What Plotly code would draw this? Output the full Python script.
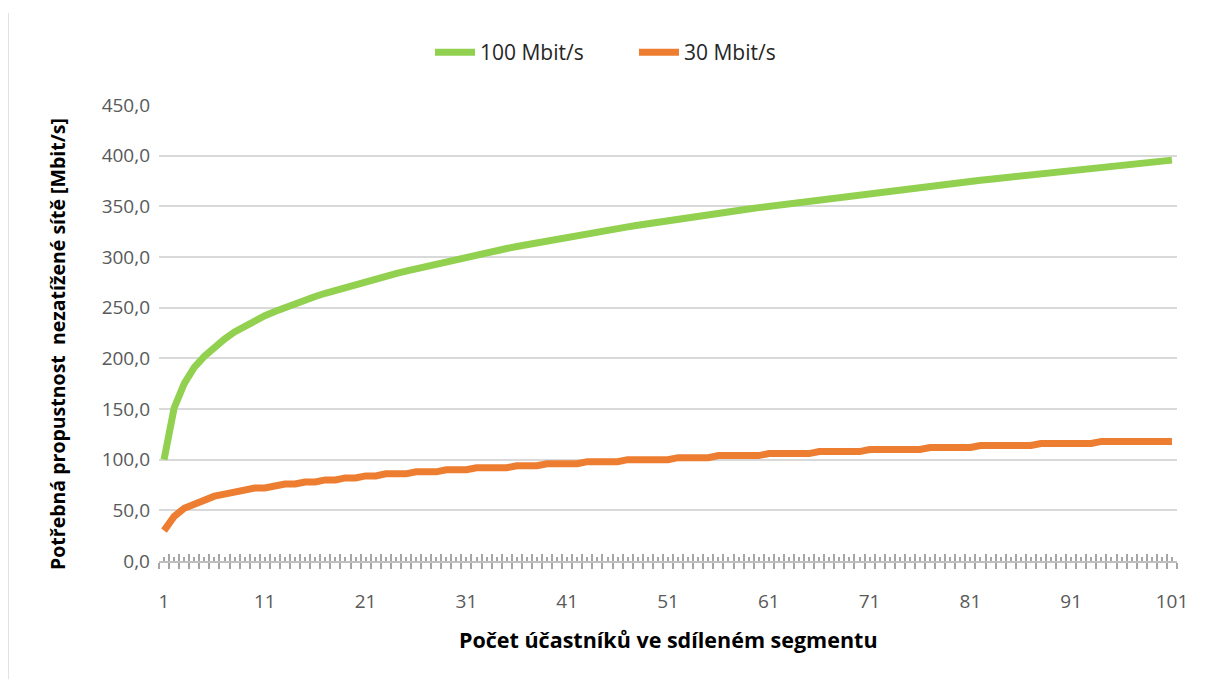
import plotly.graph_objects as go

# ---- data ----
participants = list(range(1, 102))

speed_100 = [
    100.0, 151.0, 175.0, 191.0, 202.0, 211.0, 219.0, 226.0, 232.0, 237.0,
    242.0, 246.2, 250.2, 254.0, 257.6, 261.0, 264.2, 267.2, 270.1, 272.9,
    275.5, 278.3, 280.9, 283.5, 286.0, 288.4, 290.8, 293.2, 295.5, 297.8,
    300.0, 302.2, 304.4, 306.4, 308.4, 310.4, 312.3, 314.1, 316.0, 317.8,
    319.5, 321.3, 323.1, 324.8, 326.5, 328.1, 329.7, 331.3, 332.9, 334.5,
    336.0, 337.5, 339.0, 340.4, 341.9, 343.3, 344.6, 346.0, 347.3, 348.7,
    350.0, 351.3, 352.6, 353.9, 355.2, 356.5, 357.8, 359.1, 360.3, 361.6,
    362.8, 364.0, 365.2, 366.4, 367.6, 368.8, 370.0, 371.2, 372.3, 373.5,
    374.6, 375.7, 376.8, 377.9, 379.0, 380.1, 381.2, 382.3, 383.4, 384.5,
    385.6, 386.6, 387.6, 388.6, 389.6, 390.6, 391.6, 392.6, 393.6, 394.6,
    395.6,
]

speed_30 = [
    30, 44, 52, 56, 60, 64, 66, 68, 70, 72,
    72, 74, 76, 76, 78, 78, 80, 80, 82, 82,
    84, 84, 86, 86, 86, 88, 88, 88, 90, 90,
    90, 92, 92, 92, 92, 94, 94, 94, 96, 96,
    96, 96, 98, 98, 98, 98, 100, 100, 100, 100,
    100, 102, 102, 102, 102, 104, 104, 104, 104, 104,
    106, 106, 106, 106, 106, 108, 108, 108, 108, 108,
    110, 110, 110, 110, 110, 110, 112, 112, 112, 112,
    112, 114, 114, 114, 114, 114, 114, 116, 116, 116,
    116, 116, 116, 118, 118, 118, 118, 118, 118, 118,
    118,
]

series_names = ["100 Mbit/s", "30 Mbit/s"]
x_tick_labels = ["1", "11", "21", "31", "41", "51", "61", "71", "81", "91", "101"]
x_tick_values = [int(t) for t in x_tick_labels]
y_ticks = [0, 50, 100, 150, 200, 250, 300, 350, 400, 450]

y_title = "Potřebná propustnost\u00a0 nezatížené sítě [Mbit/s]"
x_title = "Počet účastníků ve sdíleném segmentu"

# ---- figure ----
GREEN = "#92d050"
ORANGE = "#ed7d31"
FONT = "Open Sans"
TICKC = "#a6a6a6"

# plot area in reference pixels (page has an 8px body offset)
PL, PR, PT, PB = 159, 1177, 104.5, 561.5
OFF = 8
PW, PH = PR - PL, PB - PT

fig = go.Figure()
fig.add_trace(go.Scatter(x=participants, y=speed_100, mode="lines", name=series_names[0],
                         line=dict(color=GREEN, width=7)))
fig.add_trace(go.Scatter(x=participants, y=speed_30, mode="lines", name=series_names[1],
                         line=dict(color=ORANGE, width=7)))

n = len(participants)
boundaries = [0.5 + i for i in range(n + 1)]
xrange = [0.5, n + 0.5]

fig.update_layout(
    width=1210, height=680,
    margin=dict(l=PL - OFF, r=1210 - (PR - OFF), t=PT - OFF, b=680 - (PB - OFF)),
    paper_bgcolor="white", plot_bgcolor="white",
    separators=",.",
    font=dict(family=FONT, size=19, color="#595959"),
    showlegend=True,
    legend=dict(orientation="h", x=(616 - PL) / PW - 0.5 * (190 / PW) * 0 + (-186 / PW), xanchor="left",
                y=(PB - 52) / PH, yanchor="middle",
                font=dict(family=FONT, size=21, color="#262626"),
                itemwidth=40, tracegroupgap=0,
                entrywidth=149, entrywidthmode="pixels"),
    xaxis=dict(
        range=xrange, tickmode="array", tickvals=x_tick_values, ticktext=x_tick_labels,
        ticks="", showgrid=False, zeroline=False,
        showline=True, linecolor="#bfbfbf", linewidth=1.5,
        ticklabelstandoff=22,
        tickfont=dict(family=FONT, size=19, color="#595959"),
        minor=dict(tickmode="array", tickvals=boundaries, ticks="outside",
                   ticklen=6, tickcolor=TICKC, tickwidth=1.5, showgrid=False),
    ),
    xaxis2=dict(
        overlaying="x", anchor="y", side="bottom", matches="x", range=xrange,
        tickmode="array", tickvals=boundaries, ticktext=[""] * len(boundaries),
        ticks="inside", ticklen=7, tickcolor=TICKC, tickwidth=1.5,
        showgrid=False, zeroline=False, showline=False, showticklabels=False,
        minor=dict(tickmode="array", tickvals=participants, ticks="inside",
                   ticklen=4, tickcolor=TICKC, tickwidth=1.5, showgrid=False),
    ),
    yaxis=dict(
        range=[0, 450], tickmode="array", tickvals=y_ticks, tickformat=".1f",
        showgrid=True, gridcolor="#d9d9d9", gridwidth=1.5,
        zeroline=False, showline=False, ticks="", ticklabelstandoff=8,
        tickfont=dict(family=FONT, size=19, color="#595959"),
    ),
    annotations=[
        dict(text="<b>" + y_title + "</b>", xref="paper", yref="paper",
             x=(58 - PL) / PW, y=(PB - 344) / PH, textangle=-90,
             showarrow=False, xanchor="center", yanchor="middle",
             font=dict(family=FONT, size=19.5, color="#000000")),
        dict(text="<b>" + x_title + "</b>", xref="paper", yref="paper",
             x=(668 - PL) / PW, y=-(640 - PB) / PH,
             showarrow=False, xanchor="center", yanchor="middle",
             font=dict(family=FONT, size=21.5, color="#000000")),
    ],
    shapes=[
        dict(type="line", xref="paper", yref="paper",
             x0=(8 - PL) / PW, x1=(8 - PL) / PW,
             y0=-(680 - PB) / PH, y1=(PB - 12) / PH,
             line=dict(color="#d9d9d9", width=1.5)),
    ],
)

# an invisible trace so the overlay tick axis is drawn
fig.add_trace(go.Scatter(x=[1], y=[0], xaxis="x2", mode="markers",
                         marker=dict(opacity=0), showlegend=False, hoverinfo="skip"))

fig.write_html("out.html")
